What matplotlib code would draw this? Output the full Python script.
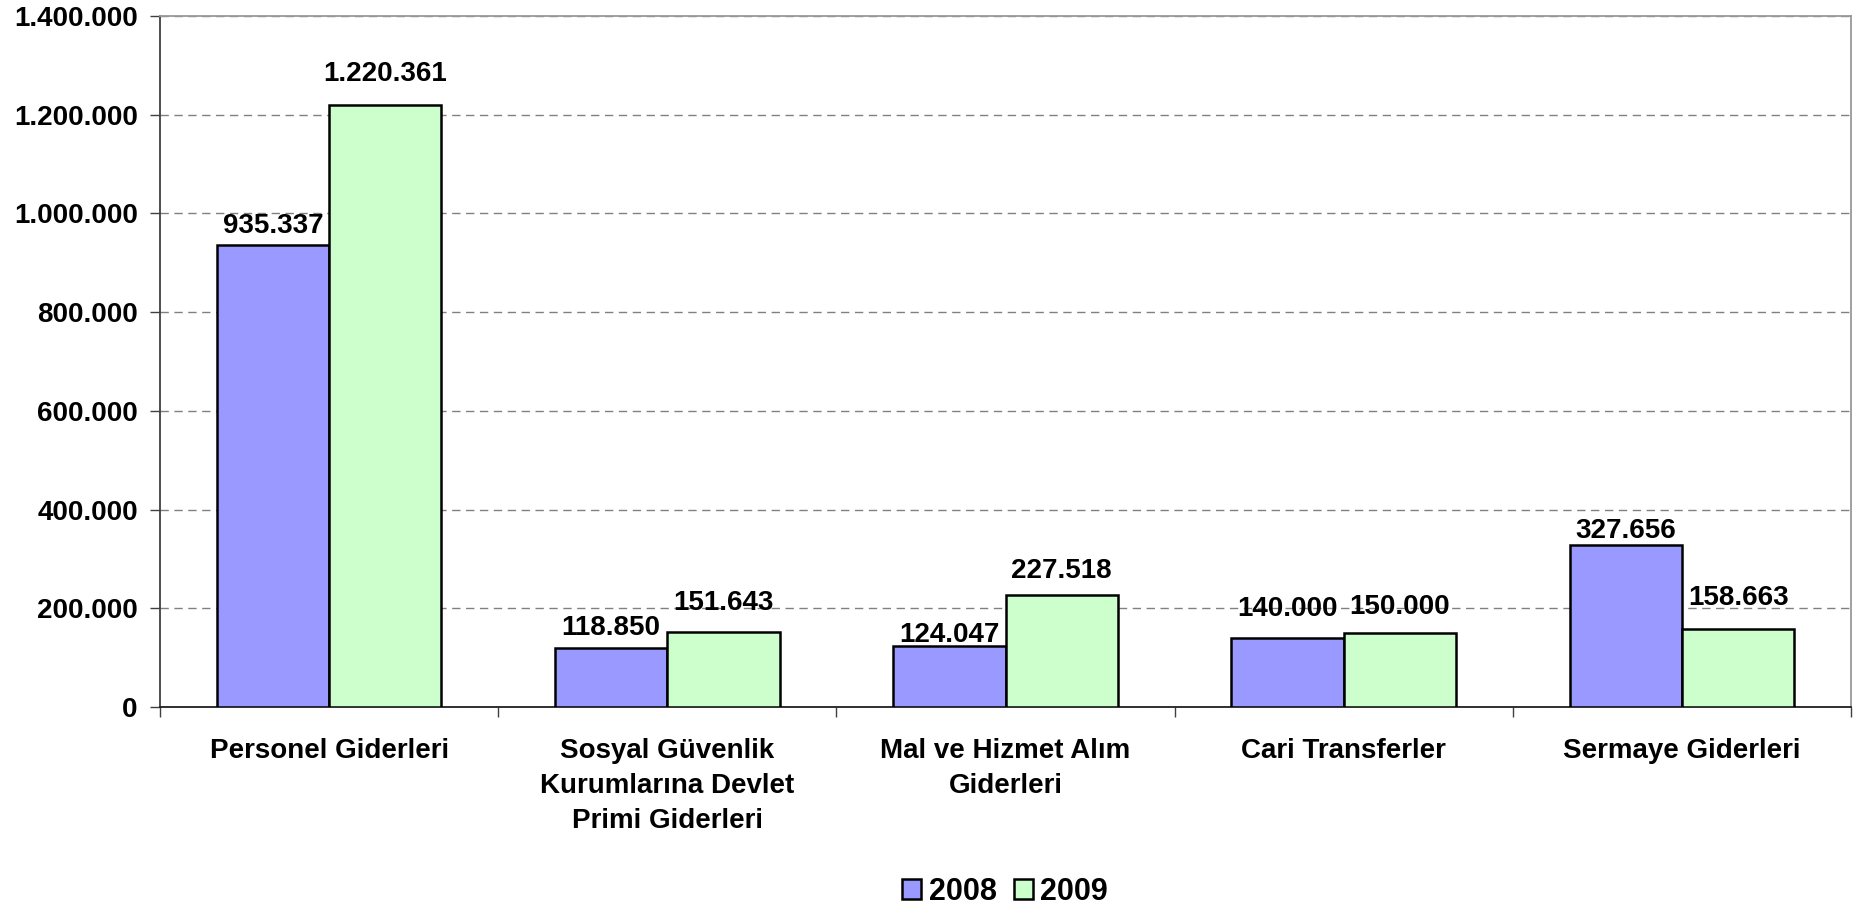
import numpy as np
import matplotlib
matplotlib.use("Agg")
import matplotlib.pyplot as plt
from matplotlib.ticker import FuncFormatter

categories = [
    "Personel Giderleri",
    "Sosyal Güvenlik\nKurumlarına Devlet\nPrimi Giderleri",
    "Mal ve Hizmet Alım\nGiderleri",
    "Cari Transferler",
    "Sermaye Giderleri",
]
years = ["2008", "2009"]
values_2008 = [935337, 118850, 124047, 140000, 327656]
values_2009 = [1220361, 151643, 227518, 150000, 158663]

# distance of label centre above bar top, in points (Excel places them a bit unevenly)
gap_2008 = [14, 15, 8, 21, 10]
gap_2009 = [22, 21, 17, 19, 22]

COLOR_2008 = "#9999FF"
COLOR_2009 = "#CCFFCC"


def dotted(v, pos=None):
    return f"{int(v):,}".replace(",", ".")


plt.rcParams["font.family"] = ["Liberation Sans", "DejaVu Sans"]
plt.rcParams["font.weight"] = "bold"

fig = plt.figure(figsize=(18.72, 9.11), dpi=100)
ax = fig.add_axes([0.0855, 0.2239, 0.9033, 0.7585])

x = np.arange(len(categories))
w = 0.332
b1 = ax.bar(x - w / 2, values_2008, w, color=COLOR_2008, edgecolor="black",
            linewidth=1.8, label=years[0], zorder=3)
b2 = ax.bar(x + w / 2, values_2009, w, color=COLOR_2009, edgecolor="black",
            linewidth=1.8, label=years[1], zorder=3)

for bars, vals, gaps in [(b1, values_2008, gap_2008), (b2, values_2009, gap_2009)]:
    for rect, v, g in zip(bars, vals, gaps):
        ax.annotate(dotted(v), (rect.get_x() + rect.get_width() / 2, v),
                    xytext=(0, g), textcoords="offset points",
                    ha="center", va="center", fontsize=20, fontweight="bold",
                    zorder=4)

ax.set_xlim(-0.5, len(categories) - 0.5)
ax.set_ylim(0, 1400000)
ax.set_yticks(np.arange(0, 1400001, 200000))
ax.yaxis.set_major_formatter(FuncFormatter(dotted))
ax.yaxis.grid(True, linestyle=(0, (6, 4)), color="#808080", linewidth=1, zorder=0)

ax.set_xticks(x)
ax.set_xticklabels(categories, fontsize=20, fontweight="bold", linespacing=1.47)
ax.set_xticks(np.arange(-0.5, len(categories)), minor=True)
ax.tick_params(axis="x", which="major", length=0, pad=22)
ax.tick_params(axis="x", which="minor", length=7, width=1, color="#404040")
ax.tick_params(axis="y", length=7, width=1, color="#404040", labelsize=20, pad=9)
for lab in ax.get_yticklabels():
    lab.set_fontweight("bold")

ax.spines["left"].set_color("#404040")
ax.spines["bottom"].set_color("#202020")
ax.spines["top"].set_color("#999999")
ax.spines["right"].set_color("#999999")
for s in ax.spines.values():
    s.set_linewidth(1.3)

leg = fig.legend(loc="center", bbox_to_anchor=(0.537, 0.021), ncol=2, frameon=False,
                 prop={"size": 22, "weight": "bold"}, handlelength=0.62,
                 handleheight=0.62, handletextpad=0.25, columnspacing=0.55)

fig.savefig("out.png", dpi=100, facecolor="white")
